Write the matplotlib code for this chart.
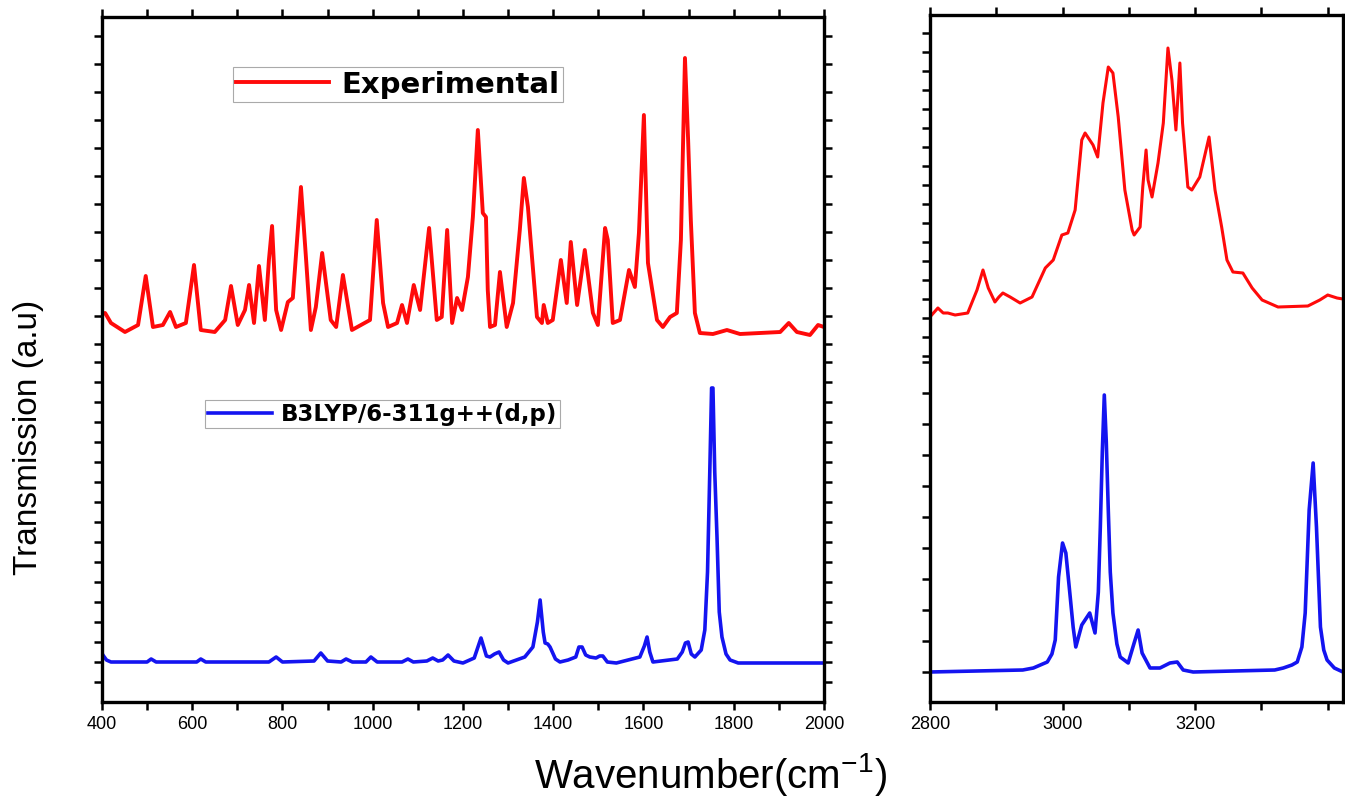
import numpy as np
import matplotlib
matplotlib.use("Agg")
import matplotlib.pyplot as plt
from matplotlib.lines import Line2D
from matplotlib import font_manager

plt.rcParams['font.family'] = ['Liberation Sans', 'DejaVu Sans']
plt.rcParams['mathtext.fontset'] = 'custom'
plt.rcParams['mathtext.rm'] = 'Liberation Sans'
plt.rcParams['mathtext.it'] = 'Liberation Sans'

# narrow face for the y label / tick labels if it is there
_names = {f.name for f in font_manager.fontManager.ttflist}
narrow = 'Liberation Sans Narrow' if 'Liberation Sans Narrow' in _names else 'Liberation Sans'

# ---- data (transmission in a.u.) ----
# experimental, fingerprint region 400-2000 cm-1
exp_low_wn = [400, 407, 420, 451, 480, 497, 513, 535, 551, 564, 586, 604, 619, 650, 673, 686,
              701, 717, 726, 737, 748, 761, 770, 777, 786, 797, 812, 823, 841, 852, 863, 874,
              888, 907, 919, 934, 954, 994, 1009, 1023, 1034, 1054, 1065, 1076, 1091, 1105,
              1125, 1142, 1153, 1165, 1176, 1187, 1198, 1211, 1222, 1233, 1244, 1251, 1255,
              1260, 1271, 1282, 1297, 1311, 1326, 1335, 1344, 1353, 1364, 1375, 1379, 1388,
              1399, 1417, 1430, 1439, 1453, 1470, 1488, 1499, 1515, 1521, 1532, 1548, 1568,
              1581, 1590, 1601, 1610, 1630, 1643, 1659, 1674, 1683, 1692, 1699, 1705, 1714,
              1725, 1754, 1785, 1814, 1903, 1922, 1940, 1969, 1987, 2000]
exp_low_y = [388, 389, 379, 370, 377, 426, 375, 377, 390, 375, 379, 437, 372, 370, 382, 416,
             377, 392, 417, 379, 436, 382, 442, 476, 392, 372, 400, 404, 515, 445, 372, 395,
             449, 382, 375, 427, 372, 382, 482, 399, 375, 379, 397, 379, 417, 392,
             474, 382, 385, 472, 379, 404, 392, 425, 485, 572, 489, 485, 412,
             375, 377, 430, 375, 399, 472, 524, 495, 445, 385, 379, 397, 379,
             382, 442, 399, 460, 397, 452, 389, 377, 474, 462, 379, 382, 432,
             415, 469, 587, 439, 382, 375, 385, 389, 462, 644, 562, 482, 389,
             369, 368, 372, 368, 370, 379, 370, 367, 377, 375]

# B3LYP/6-311g++(d,p), fingerprint region
calc_low_wn = [400, 402, 410, 420, 500, 509, 520, 610, 619, 630, 770, 786, 800, 870, 885, 900,
               930, 941, 955, 985, 996, 1010, 1065, 1078, 1090, 1120, 1133, 1145, 1155, 1167,
               1180, 1200, 1225, 1240, 1252, 1260, 1270, 1280, 1290, 1300, 1337, 1355, 1365,
               1371, 1378, 1382, 1388, 1393, 1405, 1415, 1433, 1450, 1457, 1464, 1472, 1481,
               1495, 1503, 1510, 1520, 1540, 1592, 1602, 1608, 1614, 1621, 1675, 1686, 1693,
               1699, 1706, 1714, 1728, 1736, 1742, 1747, 1751, 1754, 1758, 1763, 1768, 1774,
               1783, 1792, 1810, 2000]
calc_low_y = [49, 47, 42, 40, 40, 43, 40, 40, 43, 40, 40, 45, 40, 41, 49, 41,
              40, 43, 40, 40, 45, 40, 40, 43, 40, 41, 44, 41, 42, 47,
              41, 39, 44, 64, 46, 45, 48, 50, 42, 39, 45, 55, 80,
              102, 70, 59, 58, 55, 43, 40, 42, 45, 55, 55, 47, 45,
              44, 46, 46, 40, 39, 45, 56, 65, 50, 40, 43, 50, 59,
              60, 48, 45, 52, 72, 130, 230, 314, 314, 230, 165, 90, 65,
              48, 42, 39, 39]

# experimental, C-H stretching region
exp_high_wn = [2800, 2812, 2820, 2827, 2838, 2857, 2871, 2880, 2888, 2898, 2904, 2910, 2921,
               2936, 2954, 2974, 2986, 2999, 3008, 3019, 3029, 3034, 3046, 3053, 3061, 3069,
               3076, 3084, 3094, 3105, 3108, 3117, 3121, 3126, 3129, 3135, 3144, 3152, 3159,
               3165, 3171, 3174, 3177, 3181, 3189, 3195, 3207, 3221, 3230, 3240, 3248, 3257,
               3272, 3286, 3301, 3325, 3370, 3388, 3400, 3414, 3423]
exp_high_y = [385, 394, 389, 389, 387, 389, 412, 432, 414, 400, 405, 409, 405,
              399, 405, 434, 442, 467, 469, 492, 562, 569, 557, 545, 599, 635,
              629, 585, 512, 472, 467, 475, 515, 552, 522, 505, 539, 579, 654,
              622, 572, 605, 639, 579, 515, 512, 525, 565, 512, 475, 442, 430,
              429, 414, 402, 395, 396, 402, 407, 404, 403]

# B3LYP/6-311g++(d,p), C-H stretching region
calc_high_wn = [2800, 2940, 2956, 2970, 2977, 2984, 2989, 2994, 3000, 3005, 3011, 3016, 3020,
                3029, 3041, 3049, 3054, 3057, 3060, 3063, 3066, 3069, 3072, 3076, 3082, 3087,
                3099, 3108, 3114, 3120, 3132, 3147, 3162, 3173, 3182, 3197, 3320, 3333, 3346,
                3354, 3361, 3366, 3372, 3378, 3383, 3389, 3394, 3399, 3410, 3423]
calc_high_y = [30, 32, 34, 38, 40, 48, 62, 125, 159, 149, 109, 75, 55,
               77, 89, 69, 110, 175, 250, 307, 260, 192, 130, 89, 58, 45,
               39, 59, 72, 49, 34, 34, 39, 40, 32, 30, 32, 34, 37,
               40, 55, 89, 192, 239, 175, 75, 52, 42, 34, 30]

red = '#ff0a0a'
blue = '#1414f0'

fig = plt.figure(figsize=(13.45, 7.98), dpi=100)
ax1 = fig.add_axes([0.0758, 0.1203, 0.5368, 0.8584])
ax2 = fig.add_axes([0.6914, 0.1203, 0.3071, 0.8609])

ax1.plot(exp_low_wn, exp_low_y, color=red, lw=2.8)
ax1.plot(calc_low_wn, calc_low_y, color=blue, lw=2.6)
ax2.plot(exp_high_wn, exp_high_y, color=red, lw=2.2)
ax2.plot(calc_high_wn, calc_high_y, color=blue, lw=2.6)

ax1.set_xlim(400, 2000)
ax1.set_ylim(0, 685)
ax2.set_xlim(2800, 3423)
ax2.set_ylim(0, 687)

ax1.set_xticks(np.arange(400, 2001, 200))
ax1.set_xticks(np.arange(500, 2000, 200), minor=True)
ax2.set_xticks([2800, 3000, 3200])
ax2.set_xticks([2900, 3100, 3300, 3400], minor=True)

# y ticks: denser spacing in the lower (calc) half than the upper half
ax1.set_yticks(list(np.arange(20, 341, 20)) + list(np.arange(358, 685, 28)))
ax2.set_yticks(list(np.arange(30, 341, 31)) + list(np.arange(346, 687, 19)))

for ax in (ax1, ax2):
    ax.set_yticklabels([])
    ax.tick_params(axis='both', which='both', direction='out', length=6, width=1.8,
                   top=True, right=True, labelsize=13, colors='black', pad=4)
    ax.tick_params(axis='x', labeltop=False)
    for lbl in ax.get_xticklabels():
        lbl.set_fontfamily(narrow)
    for s in ax.spines.values():
        s.set_linewidth(2.4)

leg1 = ax1.legend([Line2D([], [], color=red, lw=2.8)], ['Experimental'],
                  loc='upper left', bbox_to_anchor=(0.181, 0.927), borderaxespad=0,
                  prop={'family': 'DejaVu Sans', 'weight': 'bold', 'size': 21},
                  handlelength=3.2, handletextpad=0.4, borderpad=0.12,
                  fancybox=False, edgecolor='#aaaaaa', framealpha=1)
leg1.get_frame().set_linewidth(0.8)
ax1.add_artist(leg1)
leg2 = ax1.legend([Line2D([], [], color=blue, lw=2.6)], ['B3LYP/6-311g++(d,p)'],
                  loc='upper left', bbox_to_anchor=(0.143, 0.441), borderaxespad=0,
                  prop={'family': 'DejaVu Sans', 'weight': 'bold', 'size': 16.5},
                  handlelength=2.8, handletextpad=0.4, borderpad=0.12,
                  fancybox=False, edgecolor='#aaaaaa', framealpha=1)
leg2.get_frame().set_linewidth(0.8)

ylab_size = 29 if narrow != 'Liberation Sans' else 24
fig.text(0.021, 0.452, 'Transmission (a.u)', rotation=90, ha='center', va='center',
         fontsize=ylab_size, family=narrow)
fig.text(0.528, 0.030, 'Wavenumber(cm$^{-1}$)', ha='center', va='center', fontsize=29)

fig.savefig('out.png', dpi=100)
